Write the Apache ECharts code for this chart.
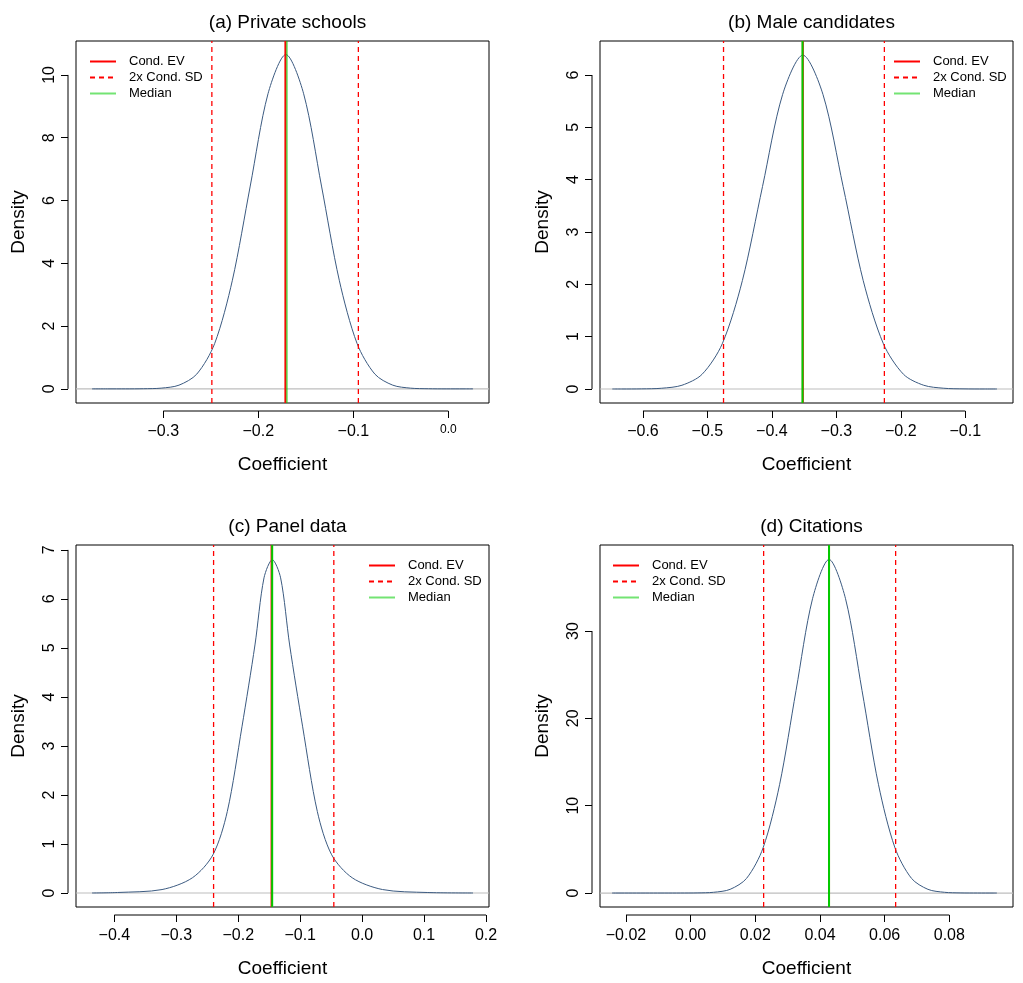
<!DOCTYPE html>
<html>
<head>
<meta charset="UTF-8">
<title>Coefficient densities</title>
<script src="https://cdn.jsdelivr.net/npm/echarts@6/dist/echarts.min.js"></script>
</head>
<body style="margin:0;background:#fff">
<div id="main" style="width:1023px;height:983px"></div>
<script>
// panel titles
var titles = ['(a) Private schools', '(b) Male candidates', '(c) Panel data', '(d) Citations'];

// density curves
var xA = [-0.375, -0.3585, -0.3398, -0.321, -0.3023, -0.2835, -0.2648, -0.246, -0.2273, -0.2085, -0.1898, -0.171, -0.1523, -0.1335, -0.1148, -0.096, -0.0773, -0.0585, -0.0398, -0.021, -0.0023, 0.0165, 0.026];
var yA = [0, 0, 0, 0.004, 0.023, 0.118, 0.47, 1.44, 3.46, 6.46, 9.40, 10.65, 9.40, 6.46, 3.46, 1.44, 0.47, 0.118, 0.023, 0.004, 0, 0, 0];
var xB = [-0.6475, -0.6333, -0.602, -0.5708, -0.5395, -0.5083, -0.477, -0.4458, -0.4145, -0.3833, -0.352, -0.3208, -0.2895, -0.2583, -0.227, -0.1958, -0.1645, -0.1333, -0.102, -0.0708, -0.0509];
var yB = [0, 0, 0.002, 0.014, 0.071, 0.28, 0.863, 2.07, 3.87, 5.63, 6.38, 5.63, 3.87, 2.07, 0.863, 0.28, 0.071, 0.014, 0.002, 0, 0];
var xC = [-0.436, -0.395, -0.323, -0.274, -0.2408, -0.2177, -0.194, -0.173, -0.1584, -0.145, -0.1316, -0.117, -0.096, -0.0723, -0.0492, -0.016, 0.033, 0.105, 0.179];
var yC = [0, 0.01, 0.07, 0.31, 0.78, 1.66, 3.39, 5.06, 6.43, 6.8, 6.43, 5.06, 3.39, 1.66, 0.78, 0.31, 0.07, 0.01, 0];
var xD = [-0.0243, -0.0082, -0.0031, 0.002, 0.0071, 0.0122, 0.0173, 0.0224, 0.0275, 0.0326, 0.0377, 0.0428, 0.0479, 0.053, 0.0581, 0.0632, 0.0683, 0.0734, 0.0785, 0.0836, 0.0887, 0.0938, 0.0947];
var yD = [0, 0, 0.0015, 0.013, 0.084, 0.42, 1.68, 5.17, 12.4, 23.2, 33.7, 38.2, 33.7, 23.2, 12.4, 5.17, 1.68, 0.42, 0.084, 0.013, 0.0015, 0, 0];

// conditional expected value, median and +-2 SD bounds
var condEV = [-0.1715, -0.352, -0.1462, 0.0428];
var median = [-0.1700, -0.3525, -0.1452, 0.0428];
var sdLow = [-0.2489, -0.475, -0.2398, 0.02257];
var sdHigh = [-0.0947, -0.2255, -0.0457, 0.0634];

// axis ranges and tick labels
var xRange = [[-0.3919, 0.0428], [-0.6666, -0.026], [-0.4619, 0.2048], [-0.02804, 0.0997]];
var yRange = [[-0.45, 11.08], [-0.268, 6.65], [-0.286, 7.1], [-1.6, 39.85]];
var xTicks = [[-0.3, -0.2, -0.1, 0], [-0.6, -0.5, -0.4, -0.3, -0.2, -0.1], [-0.4, -0.3, -0.2, -0.1, 0, 0.1, 0.2], [-0.02, 0, 0.02, 0.04, 0.06, 0.08]];
var xDec = [1, 1, 1, 2];
var yTicks = [[0, 2, 4, 6, 8, 10], [0, 1, 2, 3, 4, 5, 6], [0, 1, 2, 3, 4, 5, 6, 7], [0, 10, 20, 30]];

var curvesX = [xA, xB, xC, xD];
var curvesY = [yA, yB, yC, yD];
var boxes = [[76, 41], [600, 41], [76, 545], [600, 545]];
var legendPos = [[84, 50], [888, 50], [363, 554], [607, 554]];
var W = 413, H = 362;

function fmt(v, d) {
    var s = Math.abs(v).toFixed(d);
    return (v < -1e-9 ? '\u2212' : '') + s;
}

var chart = echarts.init(document.getElementById('main'));
var grid = [], xAxis = [], yAxis = [], series = [], title = [], legend = [];

for (var i = 0; i < 4; i++) {
    (function (i) {
        grid.push({left: boxes[i][0], top: boxes[i][1], width: W, height: H, show: true, borderColor: '#000', borderWidth: 1});
        title.push({text: titles[i], left: boxes[i][0] + W / 2, top: boxes[i][1] - 33, textAlign: 'center',
            textStyle: {fontSize: 19, fontWeight: 'normal', color: '#000', fontFamily: 'Liberation Sans'}});
        xAxis.push({type: 'value', gridIndex: i, min: xRange[i][0], max: xRange[i][1], offset: 8,
            axisLine: {show: false, onZero: false}, splitLine: {show: false},
            axisTick: {show: true, length: 7, customValues: xTicks[i], lineStyle: {color: '#000'}},
            axisLabel: {customValues: xTicks[i], margin: 13, fontSize: 16, color: '#000', fontFamily: 'Liberation Sans',
                formatter: function (v) {
                    if (i === 0 && Math.abs(v) < 1e-9) return '{s|0.0}';
                    return fmt(v, xDec[i]);
                },
                rich: {s: {fontSize: 12, color: '#000', fontFamily: 'Liberation Sans'}}},
            name: 'Coefficient', nameLocation: 'middle', nameGap: 44,
            nameTextStyle: {fontSize: 19, color: '#000', fontFamily: 'Liberation Sans'}});
        yAxis.push({type: 'value', gridIndex: i, min: yRange[i][0], max: yRange[i][1], offset: 8,
            axisLine: {show: false, onZero: false}, splitLine: {show: false},
            axisTick: {show: true, length: 7, customValues: yTicks[i], lineStyle: {color: '#000'}},
            axisLabel: {customValues: yTicks[i], rotate: 90, margin: 10, fontSize: 16, color: '#000', fontFamily: 'Liberation Sans'},
            name: 'Density', nameLocation: 'middle', nameGap: 40, nameRotate: 90,
            nameTextStyle: {fontSize: 19, color: '#000', fontFamily: 'Liberation Sans'}});

        var base = {type: 'line', xAxisIndex: i, yAxisIndex: i, symbol: 'none', silent: true};
        series.push(Object.assign({}, base, {
            data: [[xRange[i][0], 0], [xRange[i][1], 0]], lineStyle: {color: '#bebebe', width: 1.2}}));
        series.push(Object.assign({}, base, {smooth: 0.3,
            data: curvesX[i].map(function (x, k) { return [x, curvesY[i][k]]; }),
            lineStyle: {color: '#3b5a80', width: 1}}));
        series.push(Object.assign({}, base, {name: '2x Cond. SD',
            data: [[sdLow[i], yRange[i][0]], [sdLow[i], yRange[i][1]]],
            lineStyle: {color: '#ff0000', width: 1.3, type: [5, 4]}, itemStyle: {color: '#ff0000'}}));
        series.push(Object.assign({}, base, {
            data: [[sdHigh[i], yRange[i][0]], [sdHigh[i], yRange[i][1]]],
            lineStyle: {color: '#ff0000', width: 1.3, type: [5, 4]}}));
        series.push(Object.assign({}, base, {name: 'Cond. EV',
            data: [[condEV[i], yRange[i][0]], [condEV[i], yRange[i][1]]],
            lineStyle: {color: '#ff0000', width: 2}, itemStyle: {color: '#ff0000'}}));
        series.push(Object.assign({}, base, {name: 'Median',
            data: [[median[i], yRange[i][0]], [median[i], yRange[i][1]]],
            lineStyle: {color: i === 0 ? 'rgba(0,205,0,0.55)' : '#00cd00', width: 2}, itemStyle: {color: '#00cd00'}}));

        legend.push({left: legendPos[i][0], top: legendPos[i][1], orient: 'vertical', itemGap: 3, itemWidth: 26, itemHeight: 14,
            selectedMode: false, data: ['Cond. EV', '2x Cond. SD', 'Median'],
            itemStyle: {opacity: 0},
            lineStyle: {color: 'inherit'},
            textStyle: {fontSize: 13, color: '#000', fontFamily: 'Liberation Sans', padding: [0, 0, 0, 8]}});
    })(i);
}

chart.setOption({animation: false, title: title, grid: grid, xAxis: xAxis, yAxis: yAxis, legend: legend, series: series});

// R-style detached axis lines spanning first to last tick
var graphics = [];
for (var i = 0; i < 4; i++) {
    var x0 = chart.convertToPixel({xAxisIndex: i}, xTicks[i][0]);
    var x1 = chart.convertToPixel({xAxisIndex: i}, xTicks[i][xTicks[i].length - 1]);
    var yb = boxes[i][1] + H + 8;
    graphics.push({type: 'line', shape: {x1: x0, y1: yb, x2: x1, y2: yb}, style: {stroke: '#000', lineWidth: 1}});
    var y0 = chart.convertToPixel({yAxisIndex: i}, yTicks[i][0]);
    var y1 = chart.convertToPixel({yAxisIndex: i}, yTicks[i][yTicks[i].length - 1]);
    var xl = boxes[i][0] - 8;
    graphics.push({type: 'line', shape: {x1: xl, y1: y0, x2: xl, y2: y1}, style: {stroke: '#000', lineWidth: 1}});
}
chart.setOption({graphic: graphics});
</script>
</body>
</html>
